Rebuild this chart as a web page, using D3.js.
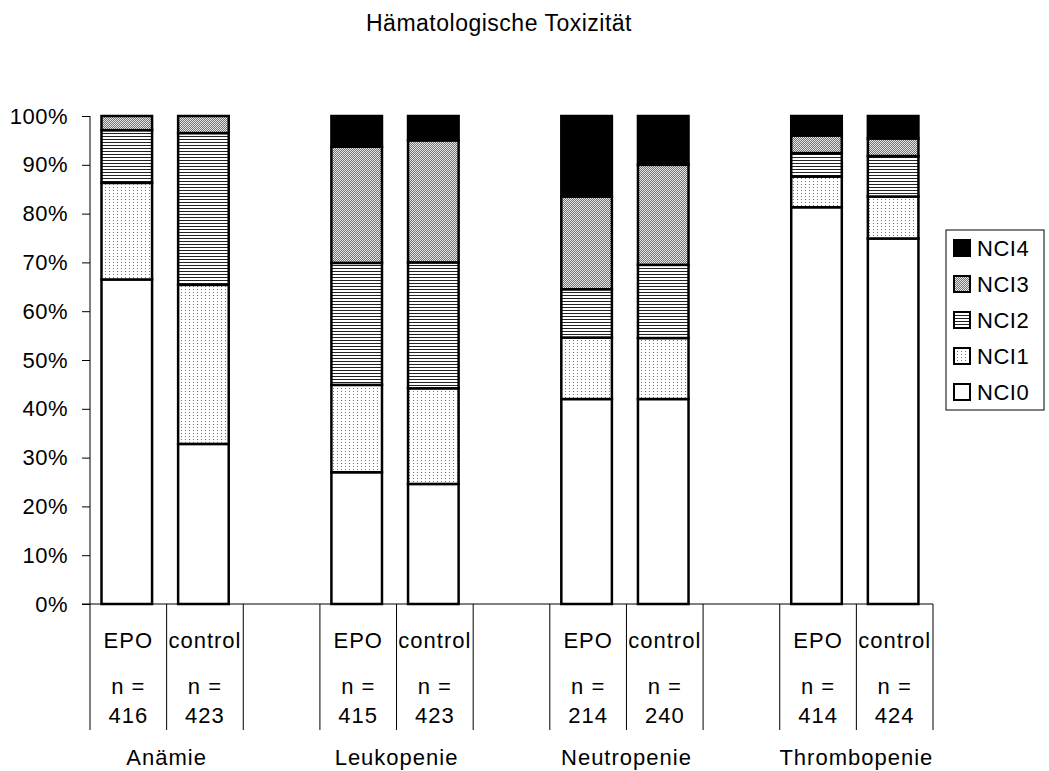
<!DOCTYPE html>
<html>
<head>
<meta charset="utf-8">
<script src="https://cdn.jsdelivr.net/npm/d3@7"></script>
<style>
  body { margin: 0; background: #fff; }
  text { font-family: "Liberation Sans", Arial, sans-serif; fill: #000; }
</style>
</head>
<body>
<script>
// categories and values
var groups = ["Anämie", "Leukopenie", "Neutropenie", "Thrombopenie"];
var arms = ["EPO", "control"];
var nCounts = [416, 423, 415, 423, 214, 240, 414, 424];
var grades = ["NCI0", "NCI1", "NCI2", "NCI3", "NCI4"];
var nci0 = [66.5, 32.8, 27.0, 24.6, 42.0, 42.0, 81.3, 74.9];
var nci1 = [19.8, 32.6, 17.9, 19.6, 12.6, 12.5, 6.3, 8.6];
var nci2 = [10.8, 31.1, 25.0, 25.8, 9.9, 15.0, 4.8, 8.3];
var nci3 = [2.9, 3.5, 23.8, 25.0, 19.0, 20.5, 3.6, 3.6];
var nci4 = [0, 0, 6.3, 5.0, 16.5, 10.0, 4.0, 4.6];
var yTicks = [0, 10, 20, 30, 40, 50, 60, 70, 80, 90, 100];

var series = [nci0, nci1, nci2, nci3, nci4];

var w = 1049, h = 771;
var plotLeft = 90, plotRight = 933, plotTop = 116, plotBottom = 604, tableBottom = 730;

var svg = d3.select("body").append("svg")
  .attr("width", w)
  .attr("height", h);

var defs = svg.append("defs");

// NCI1: sparse dots
var p1 = defs.append("pattern").attr("id", "pat1")
  .attr("patternUnits", "userSpaceOnUse").attr("width", 4).attr("height", 3);
p1.append("rect").attr("width", 4).attr("height", 3).attr("fill", "#fff");
p1.append("rect").attr("x", 1).attr("y", 1).attr("width", 1).attr("height", 1).attr("fill", "#777");

// NCI2: horizontal lines
var p2 = defs.append("pattern").attr("id", "pat2")
  .attr("patternUnits", "userSpaceOnUse").attr("width", 4).attr("height", 3);
p2.append("rect").attr("width", 4).attr("height", 3).attr("fill", "#fff");
p2.append("rect").attr("y", 1).attr("width", 4).attr("height", 1).attr("fill", "#222");

// NCI3: fine diagonal hatch, looks grey
var p3 = defs.append("pattern").attr("id", "pat3")
  .attr("patternUnits", "userSpaceOnUse").attr("width", 2).attr("height", 2);
p3.append("rect").attr("width", 2).attr("height", 2).attr("fill", "#e6e6e6");
p3.append("path").attr("d", "M0,2 L2,0 M-1,1 L1,-1 M1,3 L3,1")
  .attr("stroke", "#555").attr("stroke-width", 0.8);

var fills = ["#fff", "url(#pat1)", "url(#pat2)", "url(#pat3)", "#000"];

var x = d3.scaleBand()
  .domain(d3.range(11))
  .range([plotLeft, plotRight]);

var y = d3.scaleLinear()
  .domain([0, 100])
  .range([plotBottom, plotTop]);

function slotOf(i) {
  return Math.floor(i / 2) * 3 + (i % 2);
}

// title
svg.append("text")
  .attr("x", 499)
  .attr("y", 31)
  .attr("text-anchor", "middle")
  .style("font-size", "23px")
  .style("letter-spacing", "0.5px")
  .text("Hämatologische Toxizität");

// stacked data
var stacked = [];
nCounts.forEach(function(n, i) {
  var acc = 0;
  series.forEach(function(s, g) {
    stacked.push({ bar: i, grade: g, y0: acc, y1: acc + s[i] });
    acc += s[i];
  });
});

var bw = x.bandwidth();
svg.append("g").selectAll("rect")
  .data(stacked.filter(function(d) { return d.y1 > d.y0; }))
  .enter()
  .append("rect")
  .attr("x", function(d) { return x(slotOf(d.bar)) + bw * 0.15; })
  .attr("width", bw * 0.66)
  .attr("y", function(d) { return y(d.y1); })
  .attr("height", function(d) { return y(d.y0) - y(d.y1); })
  .attr("fill", function(d) { return fills[d.grade]; })
  .attr("stroke", "#000")
  .attr("stroke-width", 2.5);

// y axis
var yAxis = d3.axisLeft(y)
  .tickValues(yTicks)
  .tickSize(8)
  .tickPadding(14)
  .tickFormat(function(d) { return d + "%"; });

var gy = svg.append("g")
  .attr("transform", "translate(" + plotLeft + ",0)")
  .call(yAxis);
gy.select(".domain").remove();
gy.selectAll("line").attr("stroke", "#000");
gy.selectAll("text")
  .style("font-size", "22px")
  .style("letter-spacing", "0.5px")
  .style("font-family", "'Liberation Sans', Arial, sans-serif");

svg.append("line")
  .attr("x1", plotLeft).attr("x2", plotLeft)
  .attr("y1", plotTop).attr("y2", tableBottom)
  .attr("stroke", "#000");

svg.append("line")
  .attr("x1", plotLeft - 8).attr("x2", plotRight)
  .attr("y1", plotBottom).attr("y2", plotBottom)
  .attr("stroke", "#000");

// table lines under the axis
svg.append("g").selectAll("line")
  .data(d3.range(1, 12))
  .enter()
  .append("line")
  .attr("x1", function(k) { return plotLeft + k * bw; })
  .attr("x2", function(k) { return plotLeft + k * bw; })
  .attr("y1", plotBottom)
  .attr("y2", tableBottom)
  .attr("stroke", "#000");

var labels = svg.append("g")
  .style("font-size", "22px")
  .style("letter-spacing", "1px")
  .attr("text-anchor", "middle");

nCounts.forEach(function(n, i) {
  var cx = x(slotOf(i)) + bw / 2;
  labels.append("text").attr("x", cx).attr("y", 648).text(arms[i % 2]);
  labels.append("text").attr("x", cx).attr("y", 694).text("n =");
  labels.append("text").attr("x", cx).attr("y", 723).text(n);
});

groups.forEach(function(g, j) {
  labels.append("text")
    .attr("x", x(j * 3 + 1))
    .attr("y", 765)
    .text(g);
});

// legend
var legend = svg.append("g");
legend.append("rect")
  .attr("x", 946).attr("y", 230)
  .attr("width", 98).attr("height", 180)
  .attr("fill", "#fff")
  .attr("stroke", "#000");

var order = [4, 3, 2, 1, 0];
var items = legend.selectAll("g.item")
  .data(order)
  .enter()
  .append("g")
  .attr("class", "item")
  .attr("transform", function(d, i) { return "translate(0," + (248 + i * 36) + ")"; });

items.append("rect")
  .attr("x", 954).attr("y", -8)
  .attr("width", 16).attr("height", 16)
  .attr("fill", function(d) { return fills[d]; })
  .attr("stroke", "#000")
  .attr("stroke-width", 2);

items.append("text")
  .attr("x", 977)
  .attr("dy", "0.36em")
  .style("font-size", "22px")
  .style("letter-spacing", "0.5px")
  .text(function(d) { return grades[d]; });
</script>
</body>
</html>
